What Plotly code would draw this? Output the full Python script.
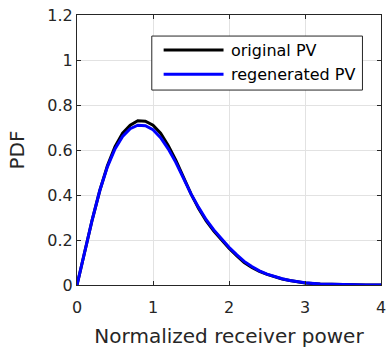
import plotly.graph_objects as go

# ---- data ----
x_power = [0.0, 0.1, 0.2, 0.3, 0.4, 0.5, 0.6, 0.7, 0.8, 0.9, 1.0, 1.1, 1.2, 1.3, 1.4,
           1.5, 1.6, 1.7, 1.8, 1.9, 2.0, 2.1, 2.2, 2.3, 2.4, 2.5, 2.6, 2.7, 2.8, 2.9,
           3.0, 3.2, 3.4, 3.6, 3.8, 4.0]
pdf_original = [0.0, 0.145, 0.29, 0.42, 0.53, 0.615, 0.675, 0.71, 0.73, 0.728, 0.71,
                0.675, 0.62, 0.555, 0.48, 0.405, 0.34, 0.285, 0.24, 0.2, 0.163, 0.13,
                0.1, 0.078, 0.06, 0.047, 0.036, 0.027, 0.02, 0.014, 0.009, 0.004,
                0.002, 0.001, 0.0005, 0.0]
pdf_regenerated = [0.0, 0.145, 0.29, 0.42, 0.525, 0.605, 0.66, 0.695, 0.71, 0.708, 0.69,
                   0.655, 0.605, 0.545, 0.475, 0.405, 0.345, 0.29, 0.245, 0.205, 0.168,
                   0.135, 0.105, 0.082, 0.063, 0.048, 0.037, 0.028, 0.02, 0.014, 0.01,
                   0.004, 0.002, 0.001, 0.0005, 0.0]
series_names = ["original PV", "regenerated PV"]
series_colors = ["#000000", "#0000ff"]
x_ticks = [0, 1, 2, 3, 4]
y_ticks = [0, 0.2, 0.4, 0.6, 0.8, 1.0, 1.2]

FONT = "DejaVu Sans"
AX = "#262626"
GRID = "#e2e2e2"

fig = go.Figure()
for ys, name, col in zip([pdf_original, pdf_regenerated], series_names, series_colors):
    fig.add_trace(go.Scatter(x=x_power, y=ys, mode="lines", name=name,
                             line=dict(color=col, width=3), showlegend=False))

axis_common = dict(showline=True, linecolor=AX, linewidth=1, mirror="ticks",
                   ticks="inside", ticklen=4, tickcolor=AX, showgrid=True,
                   gridcolor=GRID, gridwidth=1, zeroline=False,
                   tickfont=dict(family=FONT, size=16, color=AX))

fig.update_xaxes(range=[0, 4], tickvals=x_ticks, ticklabelstandoff=8, **axis_common,
                 title=dict(text="Normalized receiver power",
                            font=dict(family=FONT, size=20, color=AX), standoff=12))
fig.update_yaxes(range=[0, 1.2], tickvals=y_ticks, **axis_common,
                 title=dict(text="PDF", font=dict(family=FONT, size=20, color=AX),
                            standoff=17))

# manual MATLAB-style legend
lx0, lx1, ly0, ly1 = 0.246, 0.939, 0.722, 0.922
shapes = [dict(type="rect", xref="paper", yref="paper", x0=lx0, x1=lx1, y0=ly0, y1=ly1,
               line=dict(color=AX, width=1), fillcolor="white", layer="above")]
annotations = []
for name, col, yy in zip(series_names, series_colors, [0.870, 0.781]):
    shapes.append(dict(type="line", xref="paper", yref="paper", x0=0.285, x1=0.482,
                       y0=yy, y1=yy, line=dict(color=col, width=3), layer="above"))
    annotations.append(dict(xref="paper", yref="paper", x=0.500, y=yy, text=name,
                            showarrow=False, xanchor="left", yanchor="middle",
                            font=dict(family=FONT, size=16, color="#000000")))

fig.update_layout(width=392, height=349, autosize=False,
                  margin=dict(l=77, r=6, t=15, b=64),
                  paper_bgcolor="white", plot_bgcolor="white",
                  shapes=shapes, annotations=annotations,
                  font=dict(family=FONT))

fig.write_html("out.html", config={"displayModeBar": False},
               post_script="document.body.style.margin='0';")
